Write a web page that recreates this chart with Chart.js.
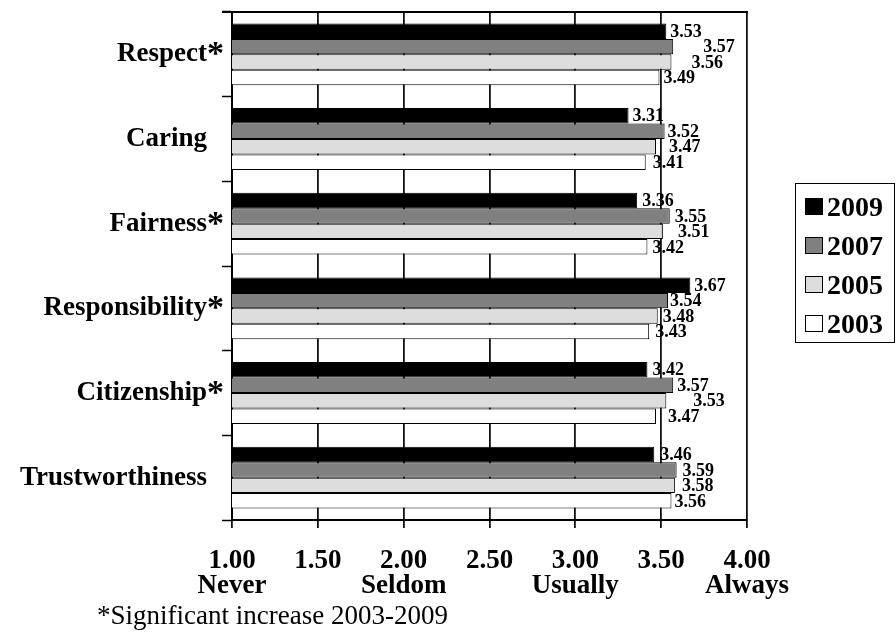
<!DOCTYPE html>
<html>
<head>
<meta charset="utf-8">
<script src="https://cdn.jsdelivr.net/npm/chart.js@4.4.1/dist/chart.umd.min.js"></script>
<style>
  html, body { margin: 0; padding: 0; background: #fff; }
  #wrap { width: 896px; height: 637px; position: relative; }
</style>
</head>
<body>
<div id="wrap"><canvas id="c"></canvas></div>
<script>
// Character-trait ratings, mean score on a 1-4 scale
const traits = ['Respect', 'Caring', 'Fairness', 'Responsibility', 'Citizenship', 'Trustworthiness'];
const significant = [true, false, true, true, true, false];
const years = ['2009', '2007', '2005', '2003'];
const scores2009 = [3.53, 3.31, 3.36, 3.67, 3.42, 3.46];
const scores2007 = [3.57, 3.52, 3.55, 3.54, 3.57, 3.59];
const scores2005 = [3.56, 3.47, 3.51, 3.48, 3.53, 3.58];
const scores2003 = [3.49, 3.41, 3.42, 3.43, 3.47, 3.56];
const scaleTicks = [1, 1.5, 2, 2.5, 3, 3.5, 4];
const scaleWords = { 1: 'Never', 2: 'Seldom', 3: 'Usually', 4: 'Always' };
const footnote = '*Significant increase 2003-2009';

const SERIF = '"Liberation Serif", "Times New Roman", Times, serif';
const fills = ['#000000', '#808080', '#dddddd', '#ffffff'];

// extra horizontal room (px) for value labels that would collide with neighbours
const labelShift = [
  [0, 0, 1, 0, 1, 2],
  [26, -1, 1, -2, 0, 2],
  [16, 9, 11, 1, 23, 3],
  [0, 3, 1, 2, 8, -1]
];

const seriesValues = [scores2009, scores2007, scores2005, scores2003];

const decorations = {
  id: 'decorations',
  afterDatasetsDraw(chart) {
    const ctx = chart.ctx;
    const area = chart.chartArea;
    const yScale = chart.scales.y;

    ctx.save();
    // top frame line of the plot
    ctx.strokeStyle = '#000';
    ctx.lineWidth = 2;
    ctx.beginPath();
    ctx.moveTo(area.left - 10, area.top);
    ctx.lineTo(area.right + 1, area.top);
    ctx.stroke();

    // value labels at the end of each bar
    ctx.fillStyle = '#000';
    ctx.font = 'bold 18px ' + SERIF;
    ctx.textAlign = 'left';
    ctx.textBaseline = 'middle';
    chart.data.datasets.forEach((ds, di) => {
      const meta = chart.getDatasetMeta(di);
      meta.data.forEach((bar, i) => {
        ctx.fillText(ds.data[i].toFixed(2), bar.x + 4 + labelShift[di][i], bar.y + 1);
      });
    });

    // significance markers after the trait names
    ctx.font = 'bold 34px ' + SERIF;
    ctx.textBaseline = 'alphabetic';
    traits.forEach((t, i) => {
      if (significant[i]) {
        const y = yScale.getPixelForValue(i);
        ctx.fillText('*', 207, y + 10);
      }
    });

    // legend
    const lx = 795, ly = 183, lw = 99, lh = 159;
    ctx.lineWidth = 1;
    ctx.strokeStyle = '#000';
    ctx.strokeRect(lx + 0.5, ly + 0.5, lw, lh);
    ctx.font = 'bold 28px ' + SERIF;
    years.forEach((yr, i) => {
      const cy = 206 + 39 * i;
      ctx.fillStyle = fills[i];
      ctx.fillRect(805, cy - 8, 18, 17);
      ctx.strokeRect(805.5, cy - 7.5, 17, 16);
      ctx.fillStyle = '#000';
      ctx.fillText(yr, 827, cy + 10);
    });

    // footnote
    ctx.font = '27px ' + SERIF;
    ctx.fillText(footnote, 97, 624);
    ctx.restore();
  }
};

new Chart(document.getElementById('c'), {
  type: 'bar',
  data: {
    labels: traits,
    datasets: years.map((yr, i) => ({
      label: yr,
      data: seriesValues[i],
      backgroundColor: fills[i],
      borderColor: '#000',
      borderWidth: 1,
      borderSkipped: false,
      categoryPercentage: 0.73,
      barPercentage: 1.0
    }))
  },
  options: {
    indexAxis: 'y',
    responsive: true,
    maintainAspectRatio: false,
    animation: false,
    layout: { padding: { left: 0, right: 149, top: 12, bottom: 0 } },
    plugins: {
      legend: { display: false },
      tooltip: { enabled: false }
    },
    scales: {
      x: {
        type: 'linear',
        min: 1,
        max: 4,
        afterBuildTicks: s => { s.ticks = scaleTicks.map(v => ({ value: v })); },
        afterFit: s => { s.height = 117; s.paddingLeft = 0; s.paddingRight = 0; },
        grid: { color: '#111', lineWidth: 1.8, tickLength: 8, drawTicks: true },
        border: { display: true, color: '#000', width: 2 },
        ticks: {
          padding: 20,
          color: '#000',
          autoSkip: false,
          maxRotation: 0,
          font: { family: SERIF, size: 27, weight: 'bold', lineHeight: 0.93 },
          callback: v => scaleWords[v] ? [Number(v).toFixed(2), scaleWords[v]] : Number(v).toFixed(2)
        }
      },
      y: {
        type: 'category',
        afterFit: s => { s.width = 232; s.paddingTop = 0; s.paddingBottom = 0; },
        grid: { offset: true, drawOnChartArea: false, drawTicks: true, tickLength: 10, tickColor: '#000', tickWidth: 1.5 },
        border: { display: true, color: '#000', width: 2 },
        ticks: {
          padding: 15,
          color: '#000',
          font: { family: SERIF, size: 27, weight: 'bold' }
        }
      }
    }
  },
  plugins: [decorations]
});
</script>
</body>
</html>
